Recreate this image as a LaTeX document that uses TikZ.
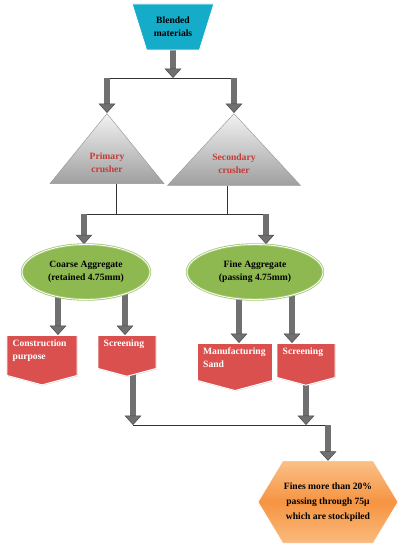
\documentclass[tikz,border=0pt]{standalone}
\usepackage{fontspec}
\setmainfont{Liberation Serif}
\usetikzlibrary{positioning,arrows.meta,shapes.geometric,shapes.symbols,shadows,calc,backgrounds}
\definecolor{blendcyan}{RGB}{20,172,200}
\definecolor{aggrgreen}{RGB}{141,185,80}
\definecolor{boxred}{RGB}{217,80,78}
\definecolor{crushred}{RGB}{196,60,55}
\definecolor{arrowgray}{RGB}{112,112,112}
\definecolor{stocktop}{RGB}{250,192,135}
\definecolor{stockmid}{RGB}{246,148,66}
\definecolor{stockbot}{RGB}{250,186,125}

\begin{document}
\begin{tikzpicture}[
    x=0.3mm, y=-0.3mm,
    every node/.style={font=\fontsize{8.2}{11}\selectfont\bfseries},
    hopper/.style={trapezium, shape border rotate=180, trapezium angle=62, trapezium stretches=true, minimum width=24.6mm, minimum height=13.8mm, fill=blendcyan, draw=white, line width=0.8pt, align=center, inner sep=0pt},
    crusher/.style={isosceles triangle, isosceles triangle stretches, shape border rotate=90, anchor=apex, top color=gray!10, bottom color=gray!75, draw=gray!80, text=crushred, align=center, inner sep=0pt},
    aggr/.style={ellipse, fill=aggrgreen, draw=aggrgreen!80!white, line width=0.7pt, double=white, double distance=0.7pt, minimum height=16.5mm, align=center, inner sep=0pt},
    outbox/.style={signal, signal to=south, signal pointer angle=150, fill=boxred, draw=white, line width=0.8pt, text=white, anchor=north, inner xsep=1.7mm, inner ysep=1.2mm, drop shadow={shadow xshift=0.5pt, shadow yshift=-0.8pt, opacity=0.3}},
    stock/.style={signal, signal to=west and east, signal pointer angle=118, minimum height=24.6mm, inner xsep=1pt, top color=stocktop, bottom color=stockbot, middle color=stockmid, draw=white, align=center, font=\fontsize{8.2}{13}\selectfont\bfseries},
    blockarr/.style={draw=black!70, line width=0.45pt, double=arrowgray, double distance=1.6mm, -{Triangle[length=2.8mm, width=5mm, fill=arrowgray, color=black!70, line width=0.45pt]}},
    joinline/.style={draw=black!80, line width=0.7pt},
  ]
  \useasboundingbox (0,0) rectangle (403,550);

  % Feed and crushers
  \node[hopper] (blend) at (173,27) {Blended\\materials};
  \node[crusher, minimum width=34.2mm, minimum height=21mm] (pri) at (107,113) {Primary\\crusher};
  \node[crusher, minimum width=39.9mm, minimum height=21mm] (sec) at (234,113) {Secondary\\crusher};

  % Aggregates
  \node[aggr, minimum width=38.4mm] (coarse) at (86,272) {Coarse Aggregate\\(retained 4.75mm)};
  \node[aggr, minimum width=40.8mm] (fine) at (255,272) {Fine Aggregate\\(passing 4.75mm)};

  % Uses
  \node[outbox] (cons) at (42,335) {\parbox[c][9.6mm][t]{17.6mm}{\raggedright Construction\\purpose}};
  \node[outbox] (scr1) at (127,335) {\parbox[c][7.5mm][t]{14mm}{\raggedright Screening}};
  \node[outbox] (manu) at (235,343) {\parbox[c][8.7mm][t]{19.1mm}{\raggedright Manufacturing\\Sand}};
  \node[outbox] (scr2) at (306,343) {\parbox[c][7.8mm][t]{14mm}{\raggedright Screening}};

  % Stockpile
  \node[stock] (fines) at (328,502) {Fines more than 20\%\\passing through 75μ\\which are stockpiled};

  % Joints
  \coordinate (tl) at (107,78);
  \coordinate (tr) at (234,78);
  \coordinate (jl) at (84,214);
  \coordinate (jr) at (266,214);
  \coordinate (pb) at ($(pri.south)+(9,0)$);
  \coordinate (sb) at ($(sec.south)+(-7,0)$);
  \coordinate (c1) at ($(cons.north)+(16,0)$);
  \coordinate (c2) at ($(scr1.north)+(-2,0)$);
  \coordinate (c3) at ($(manu.north)+(4,0)$);
  \coordinate (c4) at ($(scr2.north)+(-14,0)$);
  \coordinate (b1) at (133,425);
  \coordinate (b2) at (328,425);

  % Connectors
  \begin{scope}[on background layer]
    \draw[joinline] (tl) -- (tr);
    \draw[joinline] (pb) -- (pb |- jl);
    \draw[joinline] (sb) -- (sb |- jl);
    \draw[joinline] (jl) -- (jr);
    \draw[joinline] (b1) -- (b2);
    \draw[blockarr] (blend.center) -- (blend.center |- tl);
    \draw[blockarr] (tl) -- (pri.apex);
    \draw[blockarr] (tr) -- (sec.apex);
    \draw[blockarr] (jl) -- (jl |- coarse.north);
    \draw[blockarr] (jr) -- (jr |- fine.north);
    \draw[blockarr] (coarse.center -| c1) -- (c1);
    \draw[blockarr] (coarse.center -| c2) -- (c2);
    \draw[blockarr] (fine.center -| c3) -- (c3);
    \draw[blockarr] (fine.center -| c4) -- (c4);
    \draw[blockarr] (scr1.center -| b1) -- (b1);
    \draw[blockarr] (scr2.center) -- (scr2.center |- b1);
    \draw[blockarr] (b2) -- (fines.north);
  \end{scope}
\end{tikzpicture}
\end{document}
